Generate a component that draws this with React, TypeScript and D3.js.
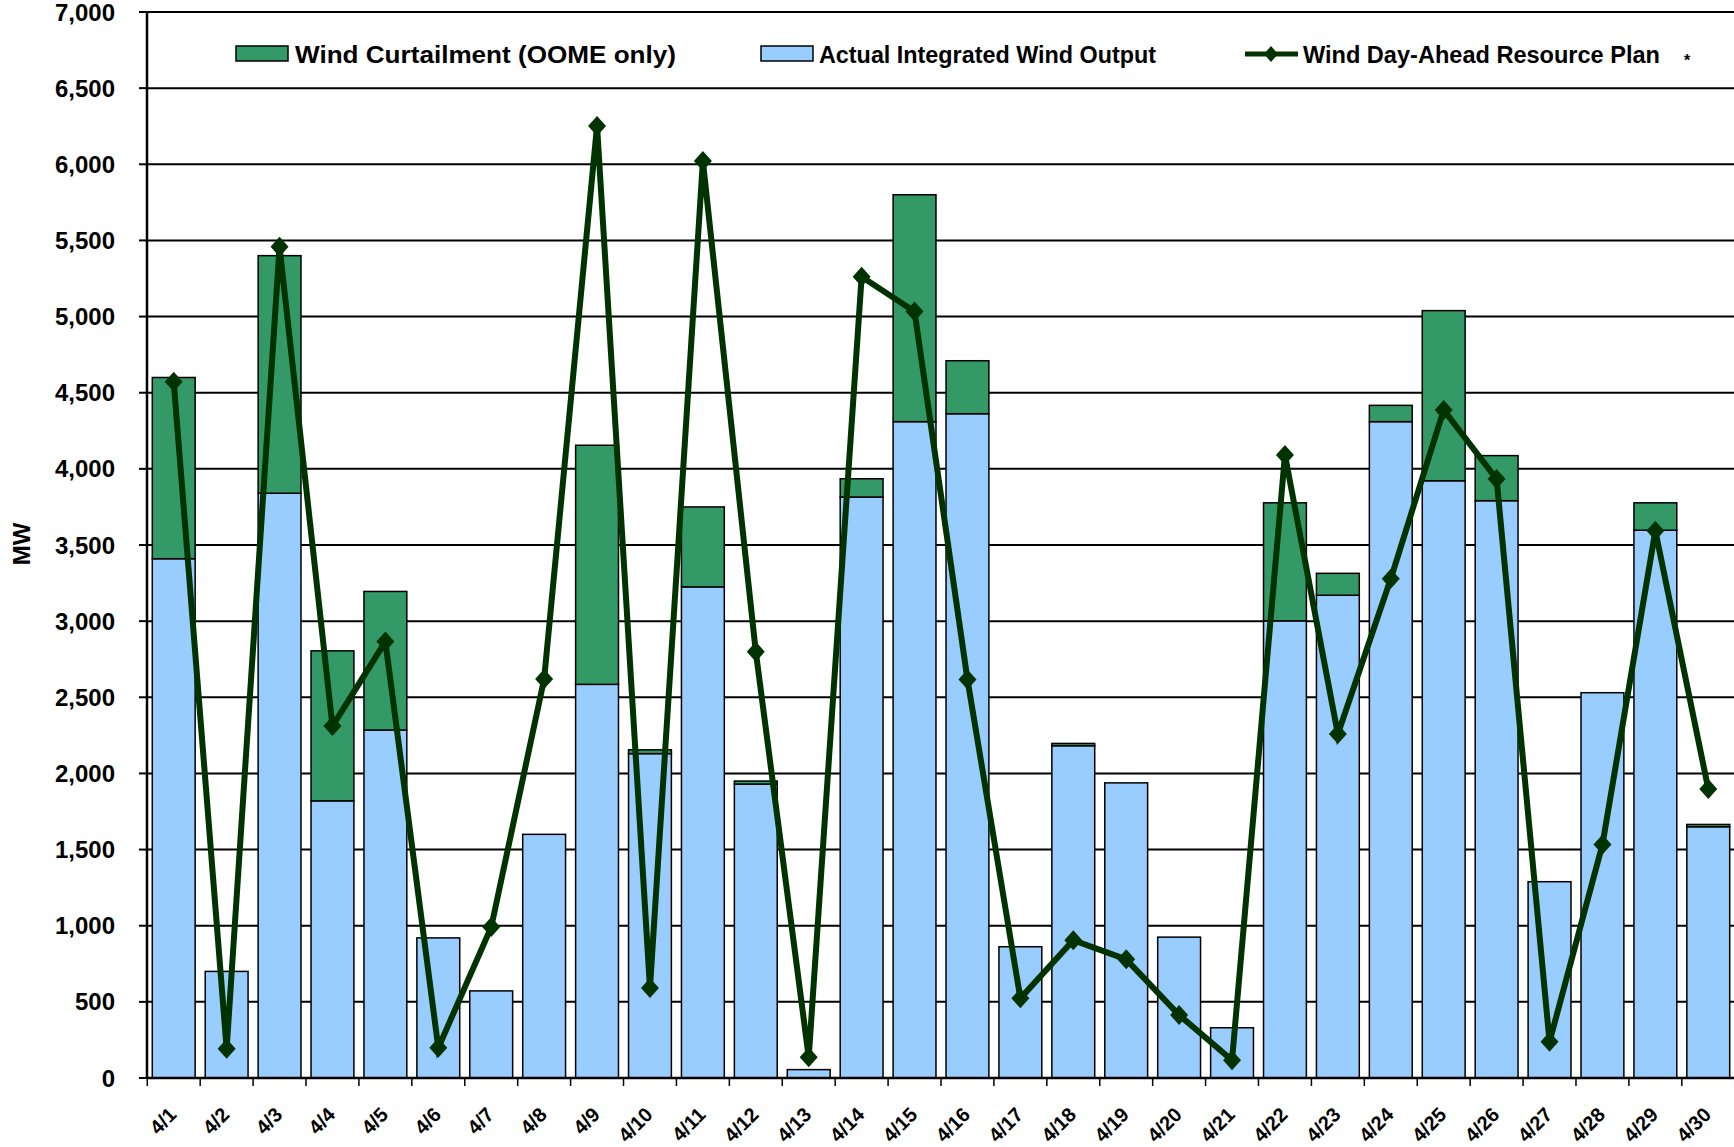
import React, { useEffect, useRef } from "react";
import * as d3 from "d3";

// April daily values (MW)
const days = [
  "4/1", "4/2", "4/3", "4/4", "4/5", "4/6", "4/7", "4/8", "4/9", "4/10",
  "4/11", "4/12", "4/13", "4/14", "4/15", "4/16", "4/17", "4/18", "4/19", "4/20",
  "4/21", "4/22", "4/23", "4/24", "4/25", "4/26", "4/27", "4/28", "4/29", "4/30",
];
const actualOutput = [
  3410, 700, 3840, 1820, 2285, 920, 572, 1600, 2585, 2130,
  3225, 1930, 55, 3815, 4310, 4362, 862, 2182, 1938, 925,
  330, 3002, 3170, 4310, 3922, 3791, 1289, 2530, 3597, 1650,
];
const curtailment = [
  1190, 0, 1560, 985, 910, 0, 0, 0, 1570, 25,
  525, 20, 0, 120, 1490, 348, 0, 15, 0, 0,
  0, 775, 144, 107, 1117, 296, 0, 0, 180, 15,
];
const dayAheadPlan = [
  4572, 192, 5458, 2311, 2866, 198, 991, 2620, 6252, 591,
  6021, 2799, 136, 5261, 5033, 2617, 523, 905, 779, 414,
  117, 4091, 2259, 3278, 4387, 3933, 238, 1533, 3593, 1898,
];
const yTicks = [0, 500, 1000, 1500, 2000, 2500, 3000, 3500, 4000, 4500, 5000, 5500, 6000, 6500, 7000];

const width = 1734;
const height = 1147;
const left = 147;
const right = 1734;
const top = 12;
const bottom = 1078;

const blue = "#99ccff";
const green = "#339966";
const dark = "#003300";

const App = () => {
  const chartRef = useRef<SVGSVGElement>(null);

  useEffect(() => {
    document.body.style.margin = "0";
    const svg = d3.select(chartRef.current);
    svg.selectAll("*").remove();

    const x = d3
      .scaleBand()
      .domain(days)
      .range([left, right + 1])
      .paddingInner(0.19)
      .paddingOuter(0.1);
    const y = d3.scaleLinear().domain([0, 7000]).range([bottom, top]);
    const bw = x.bandwidth();
    const gap = (x.step() * x.paddingInner()) / 2;

    // gridlines
    svg
      .append("g")
      .selectAll("line")
      .data(yTicks.filter((t) => t > 0))
      .enter()
      .append("line")
      .attr("x1", left)
      .attr("x2", right)
      .attr("y1", (d) => y(d))
      .attr("y2", (d) => y(d))
      .attr("stroke", "#000")
      .attr("stroke-width", 2);

    // stacked bars: actual output at the bottom, curtailment on top
    const bars = svg.append("g");
    bars
      .selectAll(".actual")
      .data(days)
      .enter()
      .append("rect")
      .attr("x", (d) => x(d))
      .attr("width", bw)
      .attr("y", (d, i) => y(actualOutput[i]))
      .attr("height", (d, i) => y(0) - y(actualOutput[i]))
      .attr("fill", blue)
      .attr("stroke", "#000")
      .attr("stroke-width", 1.5);

    bars
      .selectAll(".curt")
      .data(days.filter((d, i) => curtailment[i] > 0))
      .enter()
      .append("rect")
      .attr("x", (d) => x(d))
      .attr("width", bw)
      .attr("y", (d) => {
        const i = days.indexOf(d);
        return y(actualOutput[i] + curtailment[i]);
      })
      .attr("height", (d) => {
        const i = days.indexOf(d);
        return y(actualOutput[i]) - y(actualOutput[i] + curtailment[i]);
      })
      .attr("fill", green)
      .attr("stroke", "#000")
      .attr("stroke-width", 1.5);

    // y axis
    const yAxis = svg.append("g");
    yAxis
      .append("line")
      .attr("x1", left)
      .attr("x2", left)
      .attr("y1", top)
      .attr("y2", bottom)
      .attr("stroke", "#000")
      .attr("stroke-width", 2.5);
    yAxis
      .selectAll(".tick")
      .data(yTicks)
      .enter()
      .append("line")
      .attr("x1", left - 8)
      .attr("x2", left)
      .attr("y1", (d) => y(d))
      .attr("y2", (d) => y(d))
      .attr("stroke", "#000")
      .attr("stroke-width", 2);
    yAxis
      .selectAll("text")
      .data(yTicks)
      .enter()
      .append("text")
      .attr("x", 115)
      .attr("y", (d) => y(d))
      .attr("dy", "0.36em")
      .attr("text-anchor", "end")
      .style("font-size", "24px")
      .style("font-weight", "bold")
      .text((d) => d3.format(",")(d));

    svg
      .append("text")
      .attr("transform", `translate(30,544) rotate(-90)`)
      .attr("text-anchor", "middle")
      .style("font-size", "24px")
      .style("font-weight", "bold")
      .text("MW");

    // x axis with ticks at category boundaries
    const xAxis = svg.append("g");
    xAxis
      .append("line")
      .attr("x1", left)
      .attr("x2", right)
      .attr("y1", bottom)
      .attr("y2", bottom)
      .attr("stroke", "#000")
      .attr("stroke-width", 2.5);
    const bounds = days.map((d) => x(d) - gap).concat([x(days[days.length - 1]) + bw + gap]);
    xAxis
      .selectAll(".tick")
      .data(bounds)
      .enter()
      .append("line")
      .attr("x1", (d) => d)
      .attr("x2", (d) => d)
      .attr("y1", bottom)
      .attr("y2", bottom + 8)
      .attr("stroke", "#000")
      .attr("stroke-width", 1.5);
    xAxis
      .selectAll("text")
      .data(days)
      .enter()
      .append("text")
      .attr("transform", (d) => `translate(${x(d) + bw / 2 + 4},${bottom + 38}) rotate(-45)`)
      .attr("text-anchor", "end")
      .style("font-size", "20px")
      .style("font-weight", "bold")
      .text((d) => d);

    // day-ahead plan line
    const line = d3
      .line<number>()
      .x((d, i) => x(days[i]) + bw / 2)
      .y((d) => y(d));
    svg
      .append("path")
      .datum(dayAheadPlan)
      .attr("d", line)
      .attr("fill", "none")
      .attr("stroke", dark)
      .attr("stroke-width", 6)
      .attr("stroke-linejoin", "miter");

    const diamond = "M0,-10L9,0L0,10L-9,0Z";
    svg
      .append("g")
      .selectAll("path")
      .data(dayAheadPlan)
      .enter()
      .append("path")
      .attr("d", diamond)
      .attr("transform", (d, i) => `translate(${x(days[i]) + bw / 2},${y(d)})`)
      .attr("fill", dark);

    // legend
    const legend = svg.append("g").style("font-size", "23px").style("font-weight", "bold");
    legend
      .append("rect")
      .attr("x", 236)
      .attr("y", 46)
      .attr("width", 52)
      .attr("height", 15)
      .attr("fill", green)
      .attr("stroke", "#000")
      .attr("stroke-width", 1.5);
    legend
      .append("text")
      .attr("x", 295)
      .attr("y", 63)
      .attr("textLength", 381)
      .attr("lengthAdjust", "spacingAndGlyphs")
      .text("Wind Curtailment (OOME only)");

    legend
      .append("rect")
      .attr("x", 761)
      .attr("y", 46)
      .attr("width", 52)
      .attr("height", 15)
      .attr("fill", blue)
      .attr("stroke", "#000")
      .attr("stroke-width", 1.5);
    legend
      .append("text")
      .attr("x", 819)
      .attr("y", 63)
      .attr("textLength", 337)
      .attr("lengthAdjust", "spacingAndGlyphs")
      .text("Actual Integrated Wind Output");

    legend
      .append("line")
      .attr("x1", 1245)
      .attr("x2", 1298)
      .attr("y1", 54)
      .attr("y2", 54)
      .attr("stroke", dark)
      .attr("stroke-width", 5);
    legend
      .append("path")
      .attr("d", "M0,-8L7,0L0,8L-7,0Z")
      .attr("transform", "translate(1271,54)")
      .attr("fill", dark);
    legend
      .append("text")
      .attr("x", 1303)
      .attr("y", 63)
      .attr("textLength", 357)
      .attr("lengthAdjust", "spacingAndGlyphs")
      .text("Wind Day-Ahead Resource Plan");
    legend
      .append("text")
      .attr("x", 1684)
      .attr("y", 66)
      .style("font-size", "16px")
      .text("*");
  }, []);

  return (
    <svg
      ref={chartRef}
      width={width}
      height={height}
      style={{ display: "block", background: "#fff", fontFamily: "'Liberation Sans', Arial, sans-serif" }}
    />
  );
};

export default App;
